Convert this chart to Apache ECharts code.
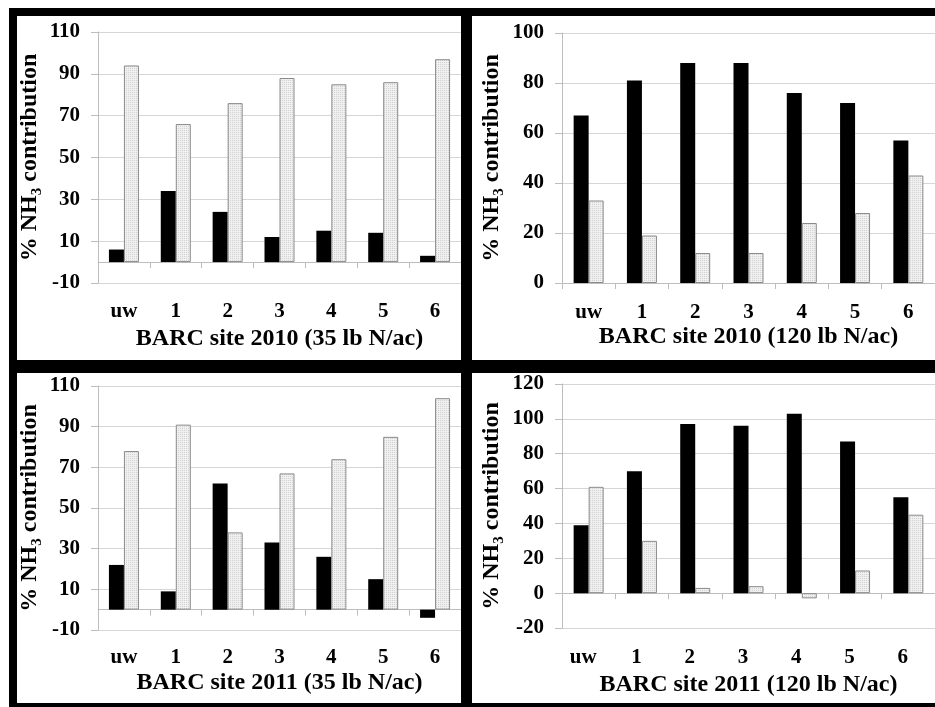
<!DOCTYPE html>
<html>
<head>
<meta charset="utf-8">
<script src="https://cdn.jsdelivr.net/npm/echarts@6/dist/echarts.min.js"></script>
<style>
  html, body { margin: 0; padding: 0; background: #fff; }
  #chart { width: 935px; height: 707px; }
</style>
</head>
<body>
<div id="chart"></div>
<script>
// Sampling positions along the x axis
const categories = ['uw', '1', '2', '3', '4', '5', '6'];

// Percent NH3 contribution, solid (black) and dotted bars per panel
const black2010_35  = [6, 34, 24, 12, 15, 14, 3];
const dotted2010_35 = [94, 66, 76, 88, 85, 86, 97];
const black2010_120  = [67, 81, 88, 88, 76, 72, 57];
const dotted2010_120 = [33, 19, 12, 12, 24, 28, 43];
const black2011_35  = [22, 9, 62, 33, 26, 15, -4];
const dotted2011_35 = [78, 91, 38, 67, 74, 85, 104];
const black2011_120  = [39, 70, 97, 96, 103, 87, 55];
const dotted2011_120 = [61, 30, 3, 4, -3, 13, 45];

// Panel titles (x axis names)
const panelTitles = [
  'BARC site 2010 (35 lb N/ac)',
  'BARC site 2010 (120 lb N/ac)',
  'BARC site 2011 (35 lb N/ac)',
  'BARC site 2011 (120 lb N/ac)'
];

// Y axis tick range per panel
const yMins = [-10, 0, -10, -20];
const yMaxs = [110, 100, 110, 120];
const yStep = 20;

const blackSets  = [black2010_35, black2010_120, black2011_35, black2011_120];
const dottedSets = [dotted2010_35, dotted2010_120, dotted2011_35, dotted2011_120];

// Layout of each panel's plot area
const layout = [
  { left: 98,  top: 32,  width: 363, height: 251, yNameGap: 53, xNameGap: 44, labelMargin: 18, labelPad: 0 },
  { left: 562, top: 33,  width: 375, height: 250, yNameGap: 55, xNameGap: 42, labelMargin: 19, labelPad: 0 },
  { left: 98,  top: 386, width: 363, height: 244, yNameGap: 53, xNameGap: 41, labelMargin: 17, labelPad: 0 },
  { left: 562, top: 384, width: 377, height: 244, yNameGap: 55, xNameGap: 45, labelMargin: 19, labelPad: 11 }
];

const FONT = "'Liberation Serif', 'Times New Roman', serif";
const AXIS_GRAY = '#bdbdbd';
const GRID_GRAY = '#d6d6d6';

// Fine, low-contrast dotted fill for the light bars
function dotPattern() {
  const c = document.createElement('canvas');
  c.width = 2; c.height = 2;
  const g = c.getContext('2d');
  g.fillStyle = '#f0f0f0';
  g.fillRect(0, 0, 2, 2);
  g.fillStyle = '#d2d2d2';
  g.fillRect(0, 0, 1, 1);
  return { image: c, repeat: 'repeat' };
}
const dottedFill = dotPattern();

const grids = [], xAxes = [], yAxes = [], series = [];

for (let i = 0; i < 4; i++) {
  const L = layout[i];
  grids.push({ left: L.left, top: L.top, width: L.width, height: L.height, containLabel: false });

  // axis drawn through zero with boundary ticks
  xAxes.push({
    type: 'category', gridIndex: i, data: categories, position: 'bottom',
    axisLine: { show: true, onZero: true, lineStyle: { color: AXIS_GRAY, width: 1 } },
    axisTick: { show: true, length: 6, lineStyle: { color: AXIS_GRAY, width: 1 } },
    axisLabel: { show: false },
    splitLine: { show: false }
  });
  // category labels and title along the bottom
  xAxes.push({
    type: 'category', gridIndex: i, data: categories, position: 'bottom',
    axisLine: { show: false, onZero: false },
    axisTick: { show: false },
    splitLine: { show: false },
    axisLabel: {
      margin: L.labelMargin, fontSize: 21, fontWeight: 'bold', fontFamily: FONT, color: '#000',
      padding: [0, L.labelPad, 0, 0]
    },
    name: panelTitles[i], nameLocation: 'middle', nameGap: L.xNameGap,
    nameTextStyle: { fontSize: 24, fontWeight: 'bold', fontFamily: FONT, color: '#000' }
  });

  yAxes.push({
    type: 'value', gridIndex: i, min: yMins[i], max: yMaxs[i], interval: yStep,
    axisLine: { show: true, lineStyle: { color: AXIS_GRAY, width: 1 } },
    axisTick: { show: true, length: 7, lineStyle: { color: AXIS_GRAY, width: 1 } },
    axisLabel: { margin: 18, fontSize: 21, fontWeight: 'bold', fontFamily: FONT, color: '#000' },
    splitLine: { show: true, lineStyle: { color: GRID_GRAY, width: 1 } },
    name: '{a|% NH}{s|3}{a| contribution}',
    nameLocation: 'middle', nameRotate: 90, nameGap: L.yNameGap,
    nameTextStyle: {
      rich: {
        a: { fontSize: 24, fontWeight: 'bold', fontFamily: FONT, color: '#000', lineHeight: 30 },
        s: { fontSize: 15, fontWeight: 'bold', fontFamily: FONT, color: '#000', verticalAlign: 'bottom' }
      }
    }
  });

  series.push({
    type: 'bar', name: 'solid', xAxisIndex: 2 * i, yAxisIndex: i,
    data: blackSets[i], barWidth: 15, barGap: '0%',
    itemStyle: { color: '#000' }, silent: true
  });
  series.push({
    type: 'bar', name: 'dotted', xAxisIndex: 2 * i, yAxisIndex: i,
    data: dottedSets[i], barWidth: 15, barGap: '0%',
    itemStyle: { color: dottedFill, borderColor: '#8a8a8a', borderWidth: 1 }, silent: true
  });
}

// Black frame and dividers around the four panels
const frame = [
  { x: 9, y: 8, width: 926, height: 8 },
  { x: 9, y: 8, width: 8, height: 699 },
  { x: 9, y: 703, width: 926, height: 4 },
  { x: 461, y: 8, width: 11, height: 699 },
  { x: 9, y: 360, width: 926, height: 13 }
].map(r => ({ type: 'rect', shape: r, style: { fill: '#000' }, z: 100, silent: true }));

const chart = echarts.init(document.getElementById('chart'), null, { renderer: 'canvas' });
chart.setOption({
  animation: false,
  backgroundColor: '#fff',
  grid: grids,
  xAxis: xAxes,
  yAxis: yAxes,
  series: series,
  graphic: frame
});
</script>
</body>
</html>
